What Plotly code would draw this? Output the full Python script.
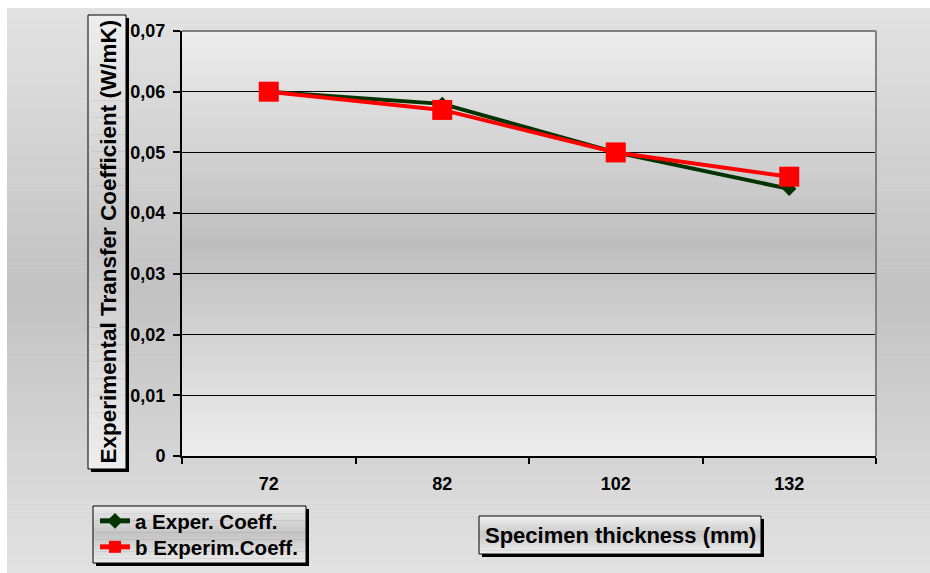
import plotly.graph_objects as go

# ---- data ----
thickness = ["72", "82", "102", "132"]
coeff_a = [0.060, 0.058, 0.050, 0.044]
coeff_b = [0.060, 0.057, 0.050, 0.046]
y_ticks = [0, 0.01, 0.02, 0.03, 0.04, 0.05, 0.06, 0.07]
y_tick_text = ["0", "0,01", "0,02", "0,03", "0,04", "0,05", "0,06", "0,07"]

# ---- page geometry (pixels) ----
FIG_W, FIG_H = 930, 573
L, R, T, B = 182, 876, 31, 456
W, H = R - L, B - T


def px(x):
    return (x - L) / W


def py(y):
    return (B - y) / H


def grey(v):
    v = int(round(v))
    return f"rgb({v},{v},{v})"


def bold(s):
    return f"<b>{s}</b>"


def gradient(x0, y0, x1, y1, light, dark, n, centre=0.5):
    """Horizontal bands, light at top and bottom, darkest at `centre`."""
    out = []
    for i in range(n):
        ya = y0 + (y1 - y0) * i / n
        yb = y0 + (y1 - y0) * (i + 1) / n + 0.6
        yb = min(yb, y1)
        t = (i + 0.5) / n
        f = t / centre if t < centre else (1 - t) / (1 - centre)
        v = light - (light - dark) * f
        out.append(dict(type="rect", xref="paper", yref="paper",
                        x0=px(x0), x1=px(x1), y0=py(yb), y1=py(ya),
                        fillcolor=grey(v), line=dict(width=0), layer="below"))
    return out


def framed_box(x0, y0, x1, y1, light, dark, n):
    out = [dict(type="rect", xref="paper", yref="paper",
                x0=px(x0 + 3), x1=px(x1 + 3), y0=py(y1 + 3), y1=py(y0 + 3),
                fillcolor="black", line=dict(width=0), layer="below")]
    out += gradient(x0, y0, x1, y1, light, dark, n)
    out.append(dict(type="rect", xref="paper", yref="paper",
                    x0=px(x0), x1=px(x1), y0=py(y1), y1=py(y0),
                    fillcolor="rgba(0,0,0,0)", line=dict(color="black", width=1),
                    layer="below"))
    return out


shapes = []
# chart area background
shapes += gradient(7, 8, FIG_W + 2, FIG_H + 2, 226, 194, 140, centre=0.5)
# plot area background
shapes += gradient(L, T, R, B, 237, 190, 110, centre=0.5)
# boxed titles and legend frame
shapes += framed_box(88, 15, 126, 469, 238, 198, 80)
shapes += framed_box(93, 506, 306, 563, 236, 196, 24)
shapes += framed_box(479, 516, 761, 554, 240, 200, 20)
# plot area border on top and right
shapes.append(dict(type="line", xref="paper", yref="paper", x0=0, x1=1, y0=1, y1=1,
                   line=dict(color="#808080", width=2), layer="above"))
shapes.append(dict(type="line", xref="paper", yref="paper", x0=1, x1=1, y0=0, y1=1,
                   line=dict(color="#808080", width=2), layer="above"))

FONT = "Liberation Sans, Arial, sans-serif"

fig = go.Figure()
fig.add_trace(go.Scatter(
    x=thickness, y=coeff_a, name=bold("a Exper. Coeff."), mode="lines+markers",
    line=dict(color="#003300", width=4),
    marker=dict(symbol="diamond", size=11, color="#003300"),
    legend="legend",
))
fig.add_trace(go.Scatter(
    x=thickness, y=coeff_b, name=bold("b Experim.Coeff."), mode="lines+markers",
    line=dict(color="#ff0000", width=4),
    marker=dict(symbol="square", size=20, color="#ff0000"),
    legend="legend2",
))

legend_style = dict(
    xanchor="left", yanchor="middle",
    bgcolor="rgba(0,0,0,0)", borderwidth=0,
    font=dict(family=FONT, size=20.5, color="black"),
    itemsizing="constant",
)

fig.update_layout(
    width=FIG_W, height=FIG_H,
    margin=dict(l=L, r=FIG_W - R, t=T, b=FIG_H - B, pad=0, autoexpand=False),
    paper_bgcolor="white",
    plot_bgcolor="rgba(0,0,0,0)",
    font=dict(family=FONT, color="black"),
    shapes=shapes,
    showlegend=True,
    legend=dict(x=px(95), y=py(521), **legend_style),
    legend2=dict(x=px(95), y=py(547), **legend_style),
    xaxis=dict(
        type="category", range=[-0.5, 3.5], tickson="boundaries",
        tickmode="array", tickvals=thickness, ticktext=[bold(t) for t in thickness],
        ticks="outside", ticklen=6, tickwidth=2, tickcolor="black",
        showline=True, linecolor="black", linewidth=2,
        showgrid=False, zeroline=False, automargin=False,
        tickfont=dict(family=FONT, size=18, color="black"),
        ticklabelstandoff=10,
    ),
    yaxis=dict(
        range=[0, 0.07], tickvals=y_ticks, ticktext=[bold(t) for t in y_tick_text],
        ticks="outside", ticklen=7, tickwidth=2, tickcolor="black",
        showline=True, linecolor="black", linewidth=2,
        showgrid=True, gridcolor="black", gridwidth=1, zeroline=False,
        automargin=False,
        tickfont=dict(family=FONT, size=18, color="black"),
        ticklabelstandoff=4,
    ),
    annotations=[
        dict(text=bold("Experimental Transfer Coefficient (W/mK)"), textangle=-90,
             xref="paper", yref="paper", x=px(107.5), y=py(242),
             xanchor="center", yanchor="middle", showarrow=False,
             font=dict(family=FONT, size=22.5, color="black")),
        dict(text=bold("Specimen thickness (mm)"),
             xref="paper", yref="paper", x=px(620), y=py(535),
             xanchor="center", yanchor="middle", showarrow=False,
             font=dict(family=FONT, size=22, color="black")),
    ],
)

fig.write_html("out.html")
